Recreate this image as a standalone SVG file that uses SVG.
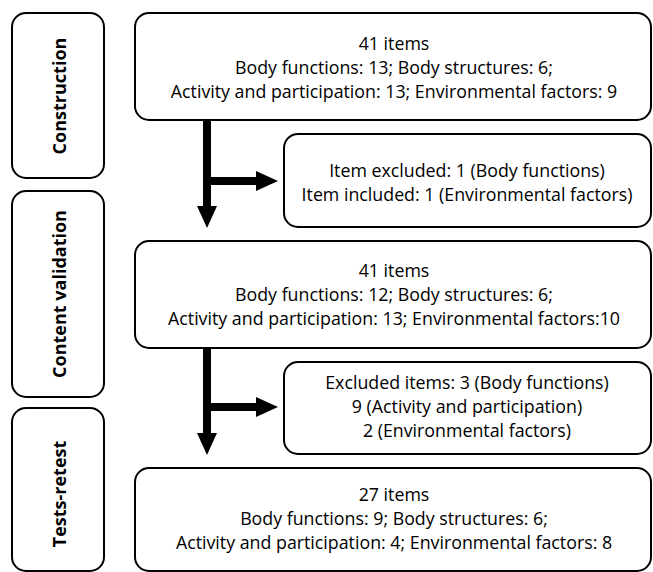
<svg xmlns="http://www.w3.org/2000/svg" width="653" height="572" viewBox="0 0 653 572">
<style>
.box{fill:#fff;stroke:#000;stroke-width:2}
.t{font-family:"Open Sans","Noto Sans",sans-serif;font-size:17.8px;fill:#000;text-anchor:middle}
.lab{font-family:"Open Sans","Noto Sans",sans-serif;font-size:18px;font-weight:bold;fill:#000;text-anchor:middle}
.arr{fill:none;stroke:#000;stroke-width:8}
</style>
<defs>
<marker id="ah" markerUnits="userSpaceOnUse" viewBox="0 0 22 20" markerWidth="22" markerHeight="20" refX="0" refY="10" orient="auto">
<path d="M0,0 L22,10 L0,20 z" fill="#000"/>
</marker>
</defs>
<rect width="653" height="572" fill="#fff"/>
<g id="stage-construction">
<rect class="box" x="12" y="13" width="92" height="165" rx="14"/>
<text class="lab" transform="translate(66,96) rotate(-90)">Construction</text>
</g>
<g id="stage-content">
<rect class="box" x="12" y="191" width="92" height="206" rx="14"/>
<text class="lab" transform="translate(66,294) rotate(-90)">Content validation</text>
</g>
<g id="stage-tests">
<rect class="box" x="12" y="408" width="92" height="163" rx="14"/>
<text class="lab" transform="translate(66,494) rotate(-90)">Tests-retest</text>
</g>
<g id="box1">
<rect class="box" x="135" y="13" width="516" height="107" rx="14"/>
<text class="t" x="394" y="50">41 items</text>
<text class="t" x="394" y="74">Body functions: 13; Body structures: 6;</text>
<text class="t" x="394" y="98">Activity and participation: 13; Environmental factors: 9</text>
</g>
<g id="box2">
<rect class="box" x="284" y="134" width="367" height="93" rx="14"/>
<text class="t" x="467" y="177">Item excluded: 1 (Body functions)</text>
<text class="t" x="467" y="201">Item included: 1 (Environmental factors)</text>
</g>
<g id="box3">
<rect class="box" x="135" y="241" width="516" height="107" rx="14"/>
<text class="t" x="394" y="277">41 items</text>
<text class="t" x="394" y="301">Body functions: 12; Body structures: 6;</text>
<text class="t" x="394" y="325">Activity and participation: 13; Environmental factors:10</text>
</g>
<g id="box4">
<rect class="box" x="284" y="362" width="367" height="92" rx="14"/>
<text class="t" x="467" y="389">Excluded items: 3 (Body functions)</text>
<text class="t" x="467" y="413">9 (Activity and participation)</text>
<text class="t" x="467" y="437">2 (Environmental factors)</text>
</g>
<g id="box5">
<rect class="box" x="135" y="468" width="516" height="103" rx="14"/>
<text class="t" x="394" y="501">27 items</text>
<text class="t" x="394" y="525">Body functions: 9; Body structures: 6;</text>
<text class="t" x="394" y="549">Activity and participation: 4; Environmental factors: 8</text>
</g>
<g id="connectors">
<path class="arr" d="M207,120 V206" marker-end="url(#ah)"/>
<path class="arr" d="M207,181 H256" marker-end="url(#ah)"/>
<path class="arr" d="M207,348 V433" marker-end="url(#ah)"/>
<path class="arr" d="M207,407 H256" marker-end="url(#ah)"/>
</g>
</svg>
